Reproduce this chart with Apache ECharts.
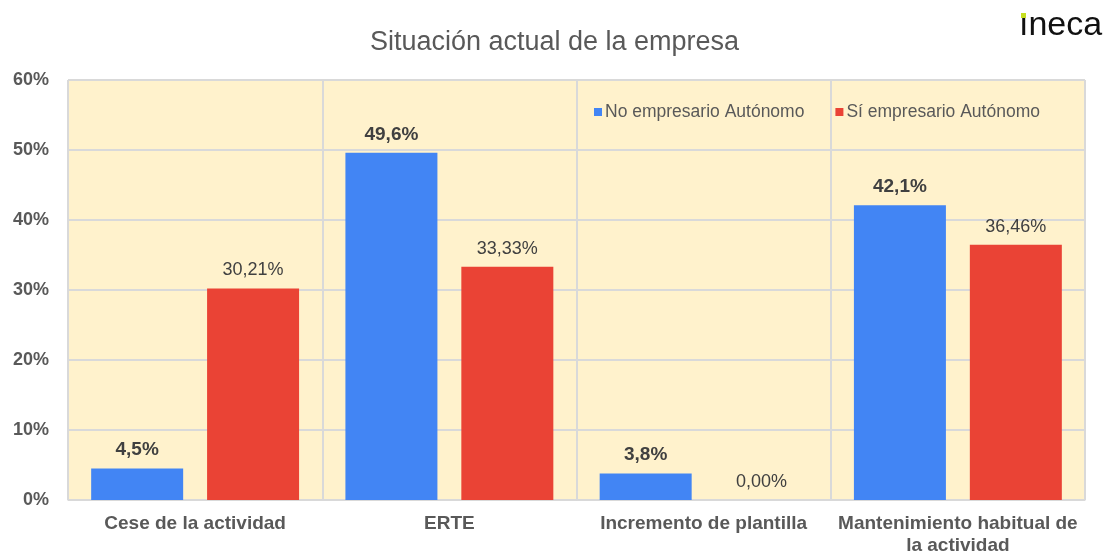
<!DOCTYPE html>
<html>
<head>
<meta charset="utf-8">
<script src="https://cdn.jsdelivr.net/npm/echarts@6/dist/echarts.min.js"></script>
<style>
  html, body { margin: 0; padding: 0; background: #fff; }
  #main { width: 1109px; height: 554px; }
</style>
</head>
<body>
<div id="main"></div>
<script>
var categories = ['Cese de la actividad', 'ERTE', 'Incremento de plantilla', 'Mantenimiento habitual de\nla actividad'];
var noAutonomo = [4.5, 49.6, 3.8, 42.1];
var siAutonomo = [30.21, 33.33, 0, 36.46];
var seriesNames = ['No empresario Autónomo', 'Sí empresario Autónomo'];

var chartDom = document.getElementById('main');
var myChart = echarts.init(chartDom);
var font = 'Arial, "Liberation Sans", sans-serif';

var option = {
    animation: false,
    textStyle: { fontFamily: font },
    title: {
        text: 'Situación actual de la empresa',
        left: 'center',
        top: 24,
        textStyle: { fontFamily: font, fontSize: 27, fontWeight: 'normal', color: '#595959' }
    },
    graphic: [
        {
            type: 'text',
            left: 1019,
            top: 9,
            style: { text: '\u0131neca', font: '34px Arial, "Liberation Sans", sans-serif', fill: '#111' }
        },
        {
            type: 'rect',
            left: 1021,
            top: 13,
            shape: { width: 5, height: 5 },
            style: { fill: '#c6df1f' }
        }
    ],
    legend: {
        data: seriesNames,
        left: 589,
        top: 98,
        icon: 'rect',
        itemWidth: 8,
        itemHeight: 8,
        itemGap: 31,
        textStyle: { fontFamily: font, fontSize: 17.5, color: '#595959', padding: [0, 0, 0, -2] }
    },
    grid: {
        left: 68,
        right: 24,
        top: 80,
        bottom: 54,
        outerBoundsMode: 'none',
        show: true,
        backgroundColor: '#FFF2CC',
        borderColor: '#d9d9d9',
        borderWidth: 1
    },
    xAxis: {
        type: 'category',
        data: categories,
        axisLine: { lineStyle: { color: '#d9d9d9' } },
        axisTick: { show: false },
        splitLine: { show: true, lineStyle: { color: '#d9d9d9', width: 2 } },
        axisLabel: {
            interval: 0,
            margin: 13,
            fontFamily: font,
            fontSize: 19,
            fontWeight: 'bold',
            color: '#595959',
            lineHeight: 22
        }
    },
    yAxis: {
        type: 'value',
        min: 0,
        max: 60,
        interval: 10,
        axisLine: { show: false },
        axisTick: { show: false },
        splitLine: { lineStyle: { color: '#d9d9d9', width: 2 } },
        axisLabel: {
            formatter: '{value}%',
            margin: 19,
            fontFamily: font,
            fontSize: 18,
            fontWeight: 'bold',
            color: '#595959'
        }
    },
    series: [
        {
            name: seriesNames[0],
            type: 'bar',
            data: noAutonomo,
            barWidth: 92,
            barGap: '26%',
            itemStyle: { color: '#4285F4' },
            label: {
                show: true,
                position: 'top',
                distance: 9,
                fontFamily: font,
                fontSize: 19,
                fontWeight: 'bold',
                color: '#404040',
                formatter: function (p) { return p.value.toFixed(1).replace('.', ',') + '%'; }
            }
        },
        {
            name: seriesNames[1],
            type: 'bar',
            data: siAutonomo,
            barWidth: 92,
            itemStyle: { color: '#EA4335' },
            label: {
                show: true,
                position: 'top',
                distance: 9,
                fontFamily: font,
                fontSize: 18,
                color: '#404040',
                formatter: function (p) { return p.value.toFixed(2).replace('.', ',') + '%'; }
            }
        }
    ]
};

myChart.setOption(option);
</script>
</body>
</html>
